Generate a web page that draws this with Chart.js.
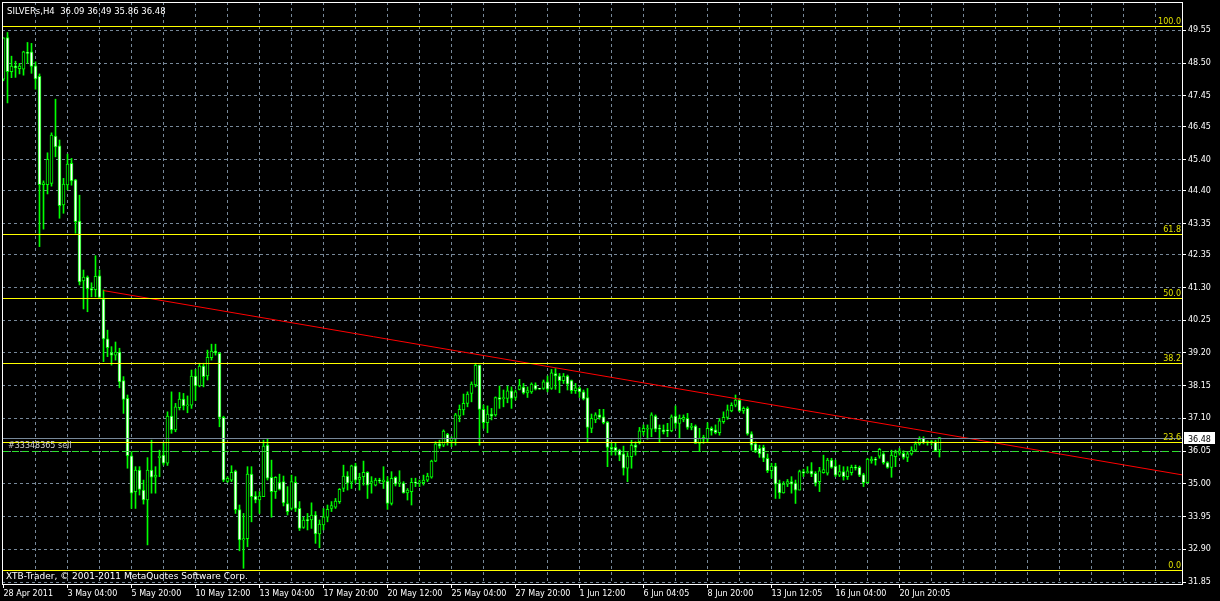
<!DOCTYPE html>
<html>
<head>
<meta charset="utf-8">
<title>SILVERs,H4</title>
<script src="https://cdn.jsdelivr.net/npm/chart.js@4.4.1/dist/chart.umd.min.js"></script>
<style>
    html, body { margin: 0; padding: 0; background: #000; overflow: hidden; }
    canvas { display: block; }
</style>
</head>
<body>
<canvas id="silverChart" width="1220" height="601"></canvas>
<script>
// H4 candles (bar 0 = 28 Apr 2011)
const opens = [
    47.98, 49.32, 48.22, 48.40, 48.32, 48.30, 48.83, 48.86, 48.41, 48.07,
    44.60, 44.60, 44.64, 46.16, 45.84, 43.95, 44.59, 45.28, 44.75, 43.43,
    41.51, 41.63, 41.26, 41.23, 41.67, 40.93, 39.65, 39.20, 39.13, 39.23,
    38.31, 37.74, 35.90, 34.75, 35.44, 34.80, 34.48, 35.44, 35.21, 35.84,
    35.92, 35.66, 37.17, 36.73, 37.44, 37.72, 37.50, 37.52, 38.46, 38.14,
    38.78, 38.46, 39.05, 39.26, 39.19, 37.13, 35.08, 35.12, 35.41, 34.17,
    33.20, 33.24, 35.31, 34.61, 34.48, 34.59, 36.24, 35.21, 34.75, 35.05,
    35.07, 34.37, 34.21, 35.05, 34.21, 33.60, 33.84, 33.84, 34.00, 33.39,
    33.68, 33.93, 34.21, 34.25, 34.43, 34.85, 35.25, 35.05, 35.58, 35.14,
    35.23, 35.37, 35.02, 34.96, 35.12, 35.07, 35.09, 34.37, 35.21, 35.02,
    35.02, 34.71, 34.75, 35.05, 35.02, 35.04, 35.12, 35.21, 35.73, 36.28,
    36.24, 36.59, 36.38, 36.43, 37.17, 37.37, 37.58, 37.90, 38.17, 38.81,
    37.39, 36.96, 37.24, 37.21, 37.77, 37.73, 37.74, 37.98, 37.77, 38.03,
    38.10, 37.92, 37.95, 38.17, 38.06, 38.06, 38.27, 38.06, 38.54, 38.46,
    38.31, 38.46, 38.31, 37.99, 38.06, 37.95, 37.77, 36.78, 37.05, 37.21,
    37.15, 36.98, 36.17, 36.17, 36.08, 35.96, 35.50, 35.87, 36.24, 36.35,
    36.67, 36.75, 36.75, 37.17, 36.78, 36.73, 36.73, 36.70, 37.17, 36.94,
    37.07, 37.10, 36.81, 36.85, 36.30, 36.43, 36.43, 36.78, 36.73, 36.64,
    36.99, 37.13, 37.34, 37.52, 37.69, 37.34, 37.42, 36.60, 36.28, 36.14,
    36.17, 35.82, 35.42, 35.57, 35.02, 34.71, 34.99, 35.07, 35.02, 34.80,
    35.39, 35.36, 35.42, 35.34, 35.07, 35.36, 35.34, 35.76, 35.57, 35.28,
    35.39, 35.23, 35.36, 35.53, 35.53, 35.30, 35.04, 35.74, 35.79, 35.89,
    35.96, 35.68, 35.53, 35.87, 35.98, 35.98, 35.85, 35.96, 36.08, 36.28,
    36.46, 36.32, 36.35, 36.35, 36.09
];
const highs = [
    49.31, 49.48, 48.72, 48.56, 48.49, 48.88, 49.16, 49.13, 48.54, 48.15,
    44.72, 45.62, 46.26, 47.34, 46.03, 44.80, 45.58, 45.44, 44.77, 44.26,
    41.86, 41.67, 41.45, 42.32, 41.86, 41.22, 39.93, 39.40, 39.55, 39.35,
    38.44, 37.85, 36.03, 35.55, 35.55, 35.12, 35.84, 36.40, 35.55, 36.08,
    36.33, 37.31, 37.95, 37.58, 37.93, 37.90, 37.82, 38.65, 38.67, 38.87,
    38.87, 39.29, 39.48, 39.48, 39.22, 37.17, 35.23, 35.58, 35.44, 34.32,
    34.05, 35.55, 35.55, 34.75, 34.75, 36.40, 36.46, 35.76, 35.23, 35.31,
    35.25, 34.91, 35.28, 35.23, 34.43, 33.94, 34.05, 34.39, 34.11, 33.84,
    34.21, 34.32, 34.43, 34.53, 34.85, 35.60, 35.39, 35.60, 35.66, 35.34,
    35.73, 35.39, 35.23, 35.18, 35.18, 35.55, 35.23, 35.39, 35.23, 35.42,
    35.07, 34.85, 35.18, 35.18, 35.12, 35.28, 35.34, 35.76, 36.35, 36.40,
    36.73, 36.62, 36.51, 37.26, 37.53, 37.88, 37.95, 38.27, 38.87, 38.81,
    37.53, 37.50, 37.42, 37.79, 38.14, 38.01, 38.14, 38.11, 38.01, 38.35,
    38.22, 38.11, 38.24, 38.24, 38.06, 38.33, 38.46, 38.67, 38.70, 38.54,
    38.54, 38.49, 38.33, 38.22, 38.11, 38.01, 38.06, 37.24, 37.28, 37.39,
    37.39, 37.00, 36.30, 36.32, 36.11, 36.21, 36.00, 36.40, 36.35, 36.81,
    36.89, 36.89, 37.28, 37.21, 36.89, 36.89, 36.94, 37.21, 37.50, 37.21,
    37.21, 37.26, 36.94, 36.89, 36.78, 36.56, 36.96, 36.83, 36.89, 37.10,
    37.31, 37.53, 37.60, 37.85, 37.74, 37.47, 37.47, 36.67, 36.35, 36.24,
    36.24, 35.96, 35.66, 35.66, 35.12, 35.07, 35.14, 35.23, 35.12, 35.44,
    35.47, 35.55, 35.68, 35.39, 35.53, 35.92, 35.82, 35.82, 35.76, 35.60,
    35.55, 35.55, 35.60, 35.60, 35.57, 35.34, 35.82, 35.87, 35.85, 36.14,
    36.00, 35.71, 36.08, 36.08, 36.14, 36.06, 36.03, 36.19, 36.35, 36.51,
    36.51, 36.38, 36.40, 36.40, 36.49
];
const lows = [
    47.93, 47.22, 48.03, 48.04, 48.15, 48.11, 48.49, 48.17, 47.66, 42.61,
    43.17, 44.30, 44.55, 45.49, 43.52, 43.68, 44.43, 44.58, 43.04, 41.38,
    40.61, 40.52, 41.00, 41.00, 40.96, 38.92, 39.08, 38.81, 38.97, 38.08,
    37.26, 35.50, 34.21, 34.21, 34.64, 34.35, 33.04, 34.70, 34.70, 35.23,
    35.60, 35.59, 36.62, 36.67, 37.37, 37.37, 37.28, 37.42, 37.67, 38.11,
    38.11, 38.33, 38.97, 39.13, 36.83, 35.07, 35.05, 35.07, 34.05, 32.85,
    32.29, 32.98, 33.78, 34.39, 34.05, 34.59, 35.12, 33.93, 34.53, 34.80,
    34.29, 34.00, 34.16, 34.11, 33.50, 33.57, 33.52, 33.57, 33.09, 32.95,
    33.52, 33.78, 34.11, 34.21, 34.37, 34.75, 34.80, 34.85, 35.02, 34.80,
    34.96, 34.53, 34.70, 34.93, 35.02, 34.85, 34.18, 34.32, 34.93, 34.91,
    34.70, 34.48, 34.32, 34.91, 34.91, 34.96, 35.07, 35.18, 35.71, 36.14,
    36.19, 36.24, 36.19, 36.24, 36.99, 37.21, 37.47, 37.63, 38.11, 36.24,
    36.78, 36.64, 37.05, 37.17, 37.42, 37.47, 37.60, 37.42, 37.69, 38.01,
    37.88, 37.77, 37.90, 38.01, 38.03, 38.03, 37.95, 38.03, 38.03, 37.92,
    38.22, 38.01, 37.90, 37.90, 37.77, 37.69, 36.35, 36.64, 36.96, 37.07,
    36.92, 35.55, 35.92, 35.92, 35.74, 35.28, 35.07, 35.50, 35.92, 36.28,
    36.56, 36.43, 36.51, 36.67, 36.35, 36.60, 36.51, 36.67, 36.78, 36.46,
    36.99, 36.75, 36.73, 36.30, 36.03, 36.30, 36.35, 36.56, 36.60, 36.56,
    36.94, 37.07, 37.31, 37.47, 37.31, 37.26, 36.56, 36.08, 36.00, 35.85,
    35.71, 35.36, 35.18, 34.53, 34.53, 34.70, 34.91, 34.70, 34.37, 34.80,
    35.23, 35.34, 35.23, 34.93, 34.75, 35.34, 35.28, 35.50, 35.23, 35.23,
    35.12, 35.14, 35.28, 35.44, 35.23, 34.91, 35.02, 35.66, 35.60, 35.82,
    35.63, 35.50, 35.21, 35.55, 35.92, 35.79, 35.71, 35.92, 36.03, 36.24,
    36.28, 36.24, 36.24, 36.03, 35.86
];
const closes = [
    49.31, 48.22, 48.40, 48.35, 48.40, 48.86, 48.81, 48.39, 47.99, 44.60,
    44.66, 45.41, 46.19, 45.81, 43.92, 44.62, 45.26, 44.72, 43.41, 41.48,
    41.63, 41.26, 41.21, 41.66, 40.98, 39.65, 39.37, 39.13, 39.23, 38.27,
    37.71, 35.90, 34.70, 35.44, 34.82, 34.48, 35.44, 35.21, 35.28, 35.89,
    35.66, 37.17, 36.73, 37.47, 37.72, 37.50, 37.52, 38.46, 38.14, 38.78,
    38.44, 39.06, 39.26, 39.20, 37.13, 35.12, 35.18, 35.37, 34.17, 33.20,
    33.24, 35.31, 34.59, 34.48, 34.61, 36.21, 35.18, 34.75, 35.21, 34.82,
    34.39, 34.11, 35.07, 34.21, 33.57, 33.84, 33.82, 34.00, 33.39, 33.71,
    33.94, 34.18, 34.30, 34.45, 34.82, 35.25, 35.02, 35.58, 35.12, 35.21,
    35.37, 34.96, 35.07, 35.12, 35.09, 35.12, 34.37, 35.18, 34.99, 35.04,
    34.71, 34.80, 35.05, 35.02, 35.05, 35.12, 35.25, 35.73, 36.28, 36.21,
    36.69, 36.32, 36.46, 37.21, 37.39, 37.58, 37.88, 38.20, 38.81, 37.39,
    36.96, 37.24, 37.17, 37.77, 37.71, 37.77, 37.98, 37.74, 37.95, 38.15,
    37.92, 37.99, 38.20, 38.04, 38.04, 38.27, 38.04, 38.56, 38.46, 38.31,
    38.46, 38.20, 37.99, 38.08, 37.95, 37.72, 36.81, 37.10, 37.21, 37.13,
    36.96, 36.17, 36.11, 36.06, 35.92, 35.50, 35.89, 36.24, 36.17, 36.70,
    36.78, 36.78, 37.21, 36.75, 36.75, 36.67, 36.70, 37.15, 36.94, 37.10,
    37.13, 36.81, 36.85, 36.30, 36.46, 36.49, 36.78, 36.70, 36.64, 37.02,
    37.13, 37.37, 37.52, 37.69, 37.34, 37.42, 36.60, 36.24, 36.06, 35.96,
    35.82, 35.42, 35.57, 34.99, 34.71, 34.99, 35.07, 34.99, 34.80, 35.39,
    35.34, 35.39, 35.31, 35.02, 35.42, 35.46, 35.76, 35.53, 35.28, 35.39,
    35.23, 35.42, 35.53, 35.50, 35.28, 35.04, 35.79, 35.79, 35.76, 36.11,
    35.68, 35.53, 35.92, 36.00, 36.06, 35.85, 35.96, 36.08, 36.28, 36.43,
    36.32, 36.35, 36.32, 36.06, 36.48
];

// one date label every 16 bars
const dateLabels = ['28 Apr 2011', '3 May 04:00', '5 May 20:00', '10 May 12:00', '13 May 04:00',
    '17 May 20:00', '20 May 12:00', '25 May 04:00', '27 May 20:00', '1 Jun 12:00',
    '6 Jun 04:05', '8 Jun 20:00', '13 Jun 12:05', '16 Jun 04:00', '20 Jun 20:05'];
const priceTicks = [31.85, 32.90, 33.95, 35.00, 36.05, 37.10, 38.15, 39.20, 40.25,
    41.30, 42.35, 43.35, 44.40, 45.40, 46.45, 47.45, 48.50, 49.55];

// fibonacci retracement levels
const fibNames = ['0.0', '23.6', '38.2', '50.0', '61.8', '100.0'];
const fibPrices = [32.22, 36.34, 38.88, 40.96, 43.02, 49.69];

// red trend line (bar index, price)
const trendBars = [25, 300];
const trendPrices = [41.20, 35.17];

const symbolTitle = 'SILVERs,H4  36.09 36.49 35.86 36.48';
const bidPrice = 36.48;
const orderPrice = 36.06;
const orderName = '#33348365 sell';
const copyright = 'XTB-Trader, \u00a9 2001-2011 MetaQuotes Software Corp.';

const LIME = '#00ff00';
const GRID = '#778899';

const wickData = opens.map((o, i) => ({x: i, y: [lows[i], highs[i]]}));
const bodyData = opens.map((o, i) => ({x: i, y: [o, closes[i]]}));
const bodyFill = opens.map((o, i) => closes[i] >= o ? '#000000' : '#ffffff');

Chart.defaults.font.family = 'DejaVu Sans';
Chart.defaults.font.size = 8;

const overlay = {
    id: 'overlay',
    beforeDraw(chart) {
        const c = chart.ctx;
        c.save();
        c.fillStyle = '#000';
        c.fillRect(0, 0, chart.width, chart.height);
        c.restore();
    },
    afterDatasetsDraw(chart) {
        const c = chart.ctx;
        const a = chart.chartArea;
        const y = chart.scales.y;
        const py = v => Math.round(y.getPixelForValue(v)) + 0.5;

        c.save();
        c.lineWidth = 1;

        // bid line
        c.strokeStyle = GRID;
        c.beginPath();
        c.moveTo(a.left, py(bidPrice));
        c.lineTo(a.right, py(bidPrice));
        c.stroke();

        // order line
        c.strokeStyle = '#2ee02e';
        c.setLineDash([7, 3]);
        c.beginPath();
        c.moveTo(a.left, py(orderPrice));
        c.lineTo(a.right, py(orderPrice));
        c.stroke();
        c.setLineDash([]);

        // fibo levels
        c.strokeStyle = '#ffff00';
        fibPrices.forEach(p => {
            c.beginPath();
            c.moveTo(a.left, py(p));
            c.lineTo(a.right, py(p));
            c.stroke();
        });

        c.font = '8px "DejaVu Sans"';
        c.textBaseline = 'alphabetic';
        c.fillStyle = '#e0e000';
        c.textAlign = 'right';
        fibNames.forEach((n, i) => c.fillText(n, a.right - 1, py(fibPrices[i]) - 2.5));

        c.textAlign = 'left';
        c.fillStyle = '#d0d0d0';
        c.fillText(orderName, 8, py(orderPrice) - 3.5);

        c.fillStyle = '#ffffff';
        c.font = '8.5px "DejaVu Sans"';
        c.fillText(symbolTitle, 7, 14);
        c.font = '9px "DejaVu Sans"';
        c.fillText(copyright, 6, 579);

        // frame
        c.strokeStyle = '#ffffff';
        c.strokeRect(a.left + 0.5, a.top + 0.5, a.right - a.left, a.bottom - a.top);

        // bid price tag
        const by = py(bidPrice);
        c.font = '8px "DejaVu Sans"';
        c.fillStyle = '#ffffff';
        c.fillRect(a.right + 2, by - 6.5, 31, 12);
        c.fillStyle = '#000000';
        c.fillText(bidPrice.toFixed(2), a.right + 6, by + 3);
        c.restore();
    }
};

new Chart(document.getElementById('silverChart'), {
    type: 'bar',
    data: {
        datasets: [{
            type: 'line',
            data: trendBars.map((b, i) => ({x: b, y: trendPrices[i]})),
            borderColor: '#ff0000',
            borderWidth: 1,
            pointRadius: 0,
            order: 0
        }, {
            data: bodyData,
            backgroundColor: bodyFill,
            borderColor: LIME,
            borderWidth: 1,
            borderSkipped: false,
            barThickness: 3,
            minBarLength: 1,
            grouped: false,
            order: 1
        }, {
            data: wickData,
            backgroundColor: LIME,
            borderWidth: 0,
            barThickness: 1,
            grouped: false,
            order: 2
        }]
    },
    options: {
        responsive: false,
        animation: false,
        devicePixelRatio: 1,
        layout: {padding: {left: 2, top: 2, right: 0, bottom: 0}},
        plugins: {
            legend: {display: false},
            tooltip: {enabled: false}
        },
        scales: {
            x: {
                type: 'linear',
                bounds: 'data',
                offset: false,
                min: -0.375,
                max: 294.625,
                afterFit(s) {
                    s.height = 17;
                    s.paddingLeft = 0;
                    s.paddingRight = 0;
                },
                afterBuildTicks(s) {
                    const t = [];
                    for (let i = 0; i <= 288; i += 8) t.push({value: i});
                    s.ticks = t;
                },
                ticks: {
                    autoSkip: false,
                    maxRotation: 0,
                    align: 'start',
                    padding: 1,
                    color: '#ffffff',
                    callback: v => (v % 16 === 0 && dateLabels[v / 16]) ? dateLabels[v / 16] : ''
                },
                grid: {
                    offset: false,
                    color: c => c.tick && c.tick.value === 0 ? 'rgba(0,0,0,0)' : GRID,
                    tickColor: c => c.tick && c.tick.value % 16 === 0 && dateLabels[c.tick.value / 16] ? '#ffffff' : 'rgba(0,0,0,0)',
                    tickLength: 4
                },
                border: {display: false, dash: [3, 3]}
            },
            y: {
                position: 'right',
                bounds: 'data',
                min: 31.786,
                max: 50.458,
                afterFit(s) {
                    s.width = 38;
                    s.paddingTop = 0;
                    s.paddingBottom = 0;
                },
                afterBuildTicks(s) {
                    s.ticks = priceTicks.map(v => ({value: v}));
                },
                ticks: {
                    padding: 2,
                    color: '#ffffff',
                    callback: v => v.toFixed(2)
                },
                grid: {
                    color: GRID,
                    tickColor: '#ffffff',
                    tickLength: 4
                },
                border: {display: false, dash: [3, 3]}
            }
        }
    },
    plugins: [overlay]
});
</script>
</body>
</html>
